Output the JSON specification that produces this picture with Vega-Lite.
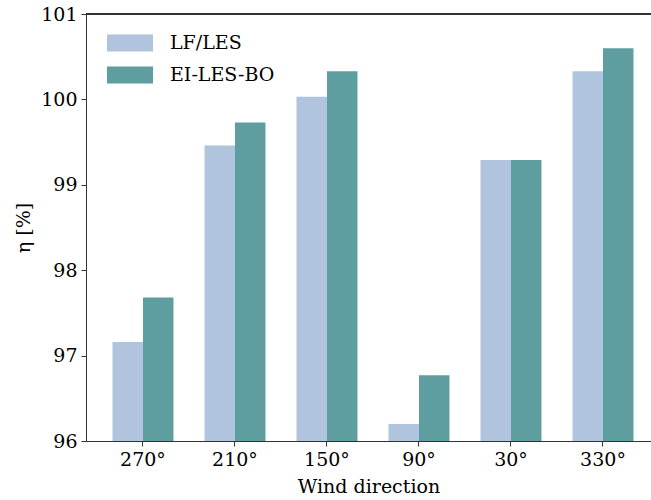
{
  "$schema": "https://vega.github.io/schema/vega-lite/v6.json",
  "autosize": {"type": "none"},
  "padding": {"left": 86, "top": 14, "right": 0, "bottom": 59},
  "width": 565,
  "height": 427,
  "config": {
    "font": "DejaVu Serif",
    "view": {"stroke": null},
    "axis": {
      "labelFont": "DejaVu Serif",
      "titleFont": "DejaVu Serif",
      "labelFontSize": 19,
      "titleFontSize": 19,
      "titleFontWeight": "normal",
      "labelColor": "#000000",
      "titleColor": "#000000",
      "domainColor": "#333333",
      "tickColor": "#333333",
      "tickSize": 5,
      "grid": false
    },
    "legend": {
      "labelFont": "DejaVu Serif",
      "labelFontSize": 19,
      "labelColor": "#000000"
    }
  },
  "data": {
    "values": [
      {"direction": "270°", "method": "LF/LES", "eta": 97.16},
      {"direction": "270°", "method": "EI-LES-BO", "eta": 97.68},
      {"direction": "210°", "method": "LF/LES", "eta": 99.46},
      {"direction": "210°", "method": "EI-LES-BO", "eta": 99.73},
      {"direction": "150°", "method": "LF/LES", "eta": 100.03},
      {"direction": "150°", "method": "EI-LES-BO", "eta": 100.33},
      {"direction": "90°", "method": "LF/LES", "eta": 96.2},
      {"direction": "90°", "method": "EI-LES-BO", "eta": 96.77},
      {"direction": "30°", "method": "LF/LES", "eta": 99.29},
      {"direction": "30°", "method": "EI-LES-BO", "eta": 99.29},
      {"direction": "330°", "method": "LF/LES", "eta": 100.33},
      {"direction": "330°", "method": "EI-LES-BO", "eta": 100.6}
    ]
  },
  "layer": [
    {
      "mark": {"type": "bar"},
      "encoding": {
        "x": {
          "field": "direction",
          "type": "nominal",
          "sort": ["270°", "210°", "150°", "90°", "30°", "330°"],
          "scale": {"paddingInner": 0.337, "paddingOuter": 0.239, "align": 0.602},
          "axis": {"title": "Wind direction", "labelAngle": 0, "labelPadding": 4, "titlePadding": 8}
        },
        "xOffset": {
          "field": "method",
          "type": "nominal",
          "sort": ["LF/LES", "EI-LES-BO"],
          "scale": {"paddingInner": 0, "paddingOuter": 0}
        },
        "y": {
          "field": "eta",
          "type": "quantitative",
          "scale": {"domain": [96, 101], "zero": false, "nice": false},
          "axis": {"title": "η [%]", "values": [96, 97, 98, 99, 100, 101], "format": "d", "labelPadding": 4, "titlePadding": 7}
        },
        "y2": {"datum": 96},
        "color": {
          "field": "method",
          "type": "nominal",
          "sort": ["LF/LES", "EI-LES-BO"],
          "scale": {"domain": ["LF/LES", "EI-LES-BO"], "range": ["#B0C4DE", "#5F9EA0"]},
          "legend": {
            "title": null,
            "orient": "none",
            "legendX": 21,
            "legendY": 13,
            "symbolType": "M-1,-0.37H1V0.37H-1Z",
            "symbolSize": 2116,
            "symbolStrokeWidth": 0,
            "symbolOpacity": 1,
            "labelOffset": 17,
            "clipHeight": 32,
            "rowPadding": 0
          }
        }
      }
    },
    {
      "mark": {"type": "rule", "color": "#333333", "strokeWidth": 1},
      "encoding": {"y": {"datum": 101}}
    }
  ]
}
